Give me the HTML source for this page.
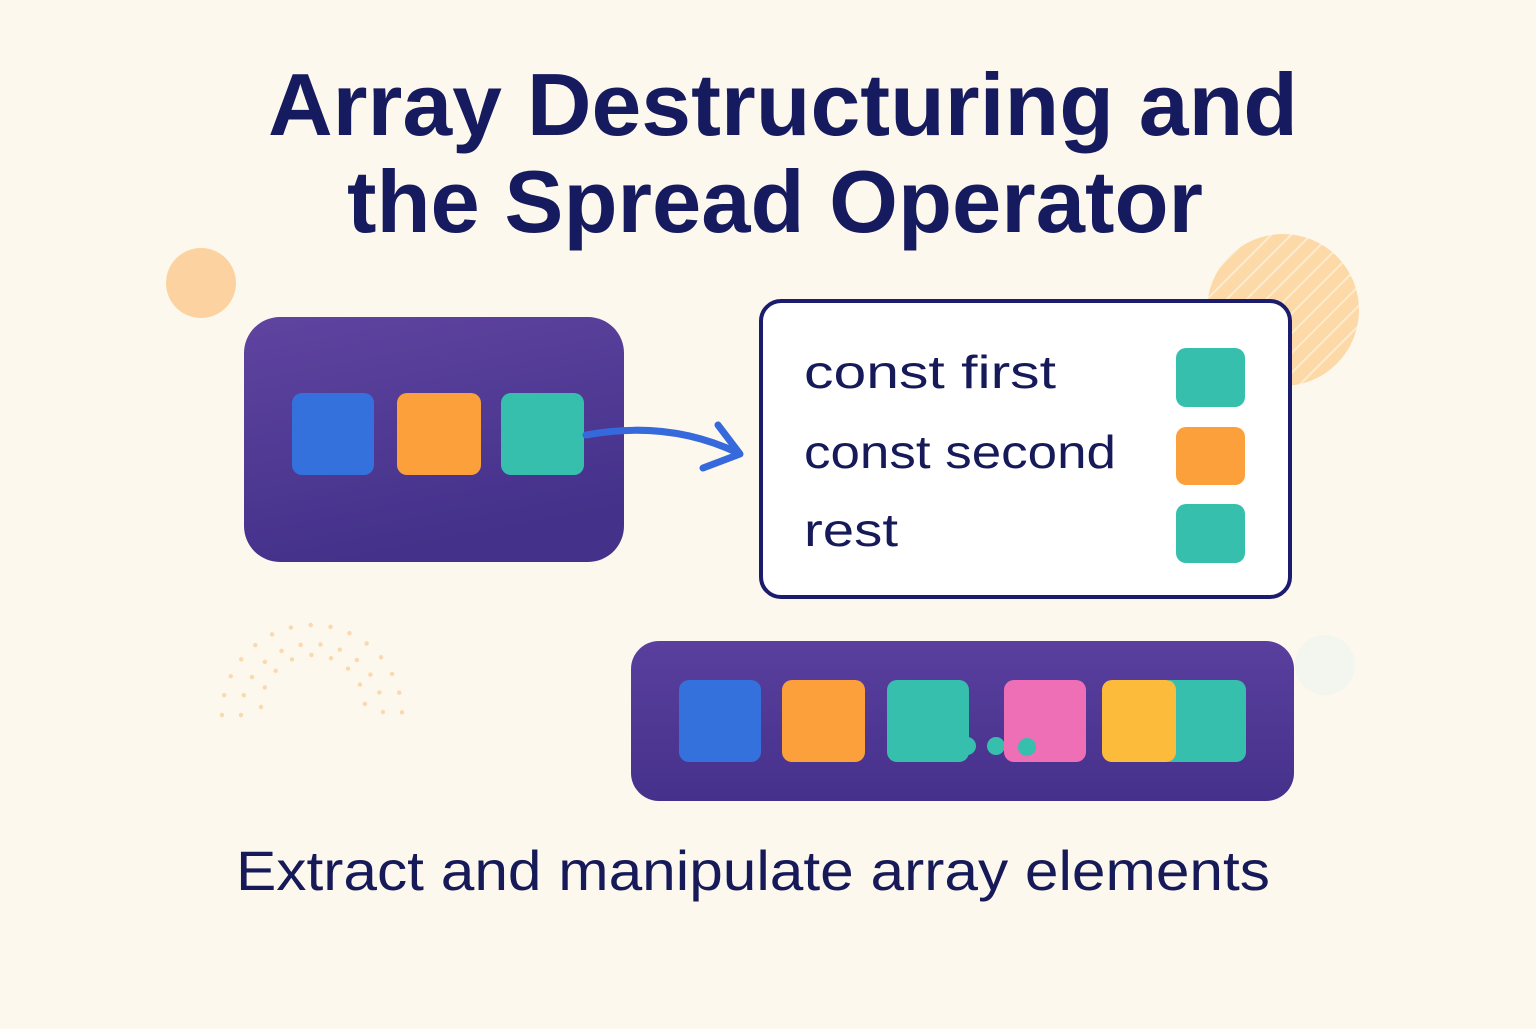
<!DOCTYPE html>
<html><head><meta charset="utf-8"><style>
html,body{margin:0;padding:0;}
body{width:1536px;height:1024px;background:#fdf8ee;overflow:hidden;}
</style></head><body>
<svg width="1536" height="1024" viewBox="0 0 1536 1024" xmlns="http://www.w3.org/2000/svg">
<defs>
<linearGradient id="pg" x1="0" y1="0" x2="0.3" y2="1">
<stop offset="0" stop-color="#5f44a0"/><stop offset="1" stop-color="#43318a"/></linearGradient>
<linearGradient id="pg2" x1="0" y1="0" x2="0" y2="1">
<stop offset="0" stop-color="#5a3f9e"/><stop offset="1" stop-color="#45318b"/></linearGradient>
<pattern id="st" width="14" height="14" patternUnits="userSpaceOnUse" patternTransform="rotate(45)">
<rect width="14" height="14" fill="#fcd9a6"/><rect width="2" height="14" fill="#fdeccf"/></pattern>
</defs>
<rect width="1536" height="1024" fill="#fdf8ee"/>
<circle cx="201" cy="283" r="35" fill="#fcd3a0"/>
<circle cx="1283" cy="310" r="76" fill="url(#st)"/>
<circle cx="1325" cy="665" r="30" fill="#eef3f0" opacity="0.7"/>
<g fill="none" stroke="#fbd9b0" stroke-width="4.5" stroke-linecap="round" stroke-dasharray="0 20">
<path d="M222 715 A90 90 0 0 1 402 715"/>
<path d="M241 715 A71 71 0 0 1 383 715"/>
<path d="M261 707 A52 52 0 0 1 365 707"/>
</g>
<text x="268" y="135" textLength="1030" lengthAdjust="spacingAndGlyphs" font-family="Liberation Sans, sans-serif" font-weight="bold" font-size="88" fill="#161a5e">Array Destructuring and</text>
<text x="347" y="232" textLength="856" lengthAdjust="spacingAndGlyphs" font-family="Liberation Sans, sans-serif" font-weight="bold" font-size="88" fill="#161a5e">the Spread Operator</text>

<rect x="244" y="317" width="380" height="245" rx="36" fill="url(#pg)"/>
<rect x="292" y="393" width="82" height="82" rx="10" fill="#3571dc"/>
<rect x="397" y="393" width="84" height="82" rx="10" fill="#fba03b"/>
<rect x="501" y="393" width="83" height="82" rx="10" fill="#37bfae"/>
<path d="M586 435 C640 425 690 430 738 453" fill="none" stroke="#3569dc" stroke-width="7" stroke-linecap="round"/>
<path d="M718 425 L740 454 L703 468" fill="none" stroke="#3569dc" stroke-width="7" stroke-linecap="round" stroke-linejoin="round"/>

<rect x="761" y="301" width="529" height="296" rx="20" fill="#fff" stroke="#1b1c6e" stroke-width="4"/>
<g font-family="Liberation Sans, sans-serif" font-size="46" fill="#171a58">
<text x="804" y="388" textLength="252" lengthAdjust="spacingAndGlyphs">const first</text>
<text x="804" y="468" textLength="312" lengthAdjust="spacingAndGlyphs">const second</text>
<text x="804" y="546" textLength="94" lengthAdjust="spacingAndGlyphs">rest</text>
</g>
<rect x="1176" y="348" width="69" height="59" rx="10" fill="#37bfae"/>
<rect x="1176" y="427" width="69" height="58" rx="10" fill="#fba03b"/>
<rect x="1176" y="504" width="69" height="59" rx="10" fill="#37bfae"/>

<rect x="631" y="641" width="663" height="160" rx="28" fill="url(#pg2)"/>
<rect x="679" y="680" width="82" height="82" rx="10" fill="#3571dc"/>
<rect x="782" y="680" width="83" height="82" rx="10" fill="#fba03b"/>
<rect x="887" y="680" width="82" height="82" rx="10" fill="#37bfae"/>
<circle cx="967" cy="746" r="9" fill="#37bfae"/>
<circle cx="996" cy="746" r="9" fill="#37bfae"/>
<rect x="1004" y="680" width="82" height="82" rx="10" fill="#ee6fb6"/>
<circle cx="1027" cy="747" r="9" fill="#37bfae"/>
<rect x="1160" y="680" width="86" height="82" rx="10" fill="#37bfae"/>
<rect x="1102" y="680" width="74" height="82" rx="10" fill="#fdbb3b"/>

<text x="236" y="890" textLength="1034" lengthAdjust="spacingAndGlyphs" font-family="Liberation Sans, sans-serif" font-size="56" fill="#171a58">Extract and manipulate array elements</text>
</svg>
</body></html>
